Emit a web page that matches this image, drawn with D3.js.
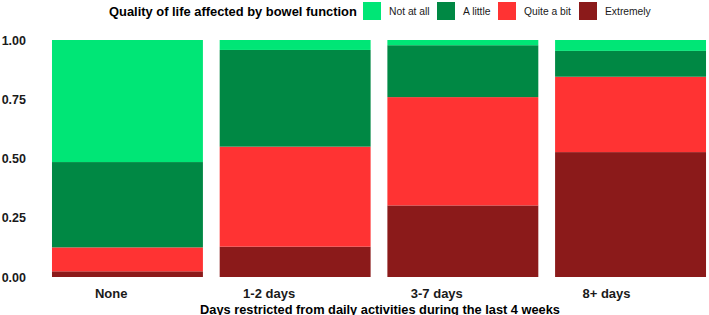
<!DOCTYPE html>
<html>
<head>
<meta charset="utf-8">
<script src="https://cdn.jsdelivr.net/npm/d3@7"></script>
<style>
  body { margin: 0; background: #fff; }
  svg { display: block; font-family: "Liberation Sans", Arial, sans-serif; }
</style>
</head>
<body>
<div id="chart"></div>
<script>
// data
var categories = ["None", "1-2 days", "3-7 days", "8+ days"];
var levels = ["Not at all", "A little", "Quite a bit", "Extremely"];
var notAtAll  = [0.515, 0.042, 0.022, 0.046];
var aLittle   = [0.360, 0.408, 0.219, 0.109];
var quiteABit = [0.101, 0.422, 0.457, 0.318];
var extremely = [0.024, 0.128, 0.302, 0.527];
var yTicks = [0, 0.25, 0.5, 0.75, 1];

var width = 709,
    height = 315,
    levelColors = ["#00e676", "#008844", "#ff3333", "#8b1a1a"];

var rows = categories.map(function(c, i) {
    return {
        cat: c,
        "Not at all": notAtAll[i],
        "A little": aLittle[i],
        "Quite a bit": quiteABit[i],
        "Extremely": extremely[i]
    };
});

var svg = d3.select('#chart').append('svg')
    .attr('width', width)
    .attr('height', height);

var x = d3.scaleBand()
    .domain(categories)
    .range([43.6, 714.4])
    .paddingInner(0.1)
    .paddingOuter(0.05);

var y = d3.scaleLinear()
    .domain([0, 1])
    .range([277, 40]);

var color = d3.scaleOrdinal().domain(levels).range(levelColors);

// bottom of the stack is "Extremely"
var series = d3.stack().keys(levels.slice().reverse())(rows);

svg.append('g')
    .selectAll('g')
    .data(series)
    .join('g')
        .attr('fill', function(d) { return color(d.key); })
    .selectAll('rect')
    .data(function(d) { return d; })
    .join('rect')
        .attr('x', function(d) { return x(d.data.cat); })
        .attr('width', x.bandwidth())
        .attr('y', function(d) { return y(d[1]); })
        .attr('height', function(d) { return y(d[0]) - y(d[1]); });

// y axis: labels only
var yAxis = svg.append('g')
    .attr('transform', 'translate(26,0)')
    .call(d3.axisLeft(y).tickValues(yTicks).tickFormat(d3.format('.2f')).tickSize(0).tickPadding(0));
yAxis.select('.domain').remove();
yAxis.selectAll('text')
    .attr('font-size', 12.5)
    .attr('font-weight', 'bold')
    .attr('font-family', '"Liberation Sans", Arial, sans-serif')
    .attr('fill', '#1a1a1a');

// x labels sit right-aligned on the bar centre
svg.append('g')
    .selectAll('text')
    .data(categories)
    .join('text')
        .attr('x', function(d) { return x(d) + x.bandwidth() / 2; })
        .attr('y', 297.5)
        .attr('text-anchor', 'end')
        .attr('font-size', 13)
        .attr('font-weight', 'bold')
        .attr('fill', '#1a1a1a')
        .text(function(d) { return d; });

svg.append('text')
    .attr('x', 380)
    .attr('y', 313.5)
    .attr('text-anchor', 'middle')
    .attr('font-size', 12.8)
    .attr('font-weight', 'bold')
    .attr('fill', '#000')
    .text('Days restricted from daily activities during the last 4 weeks');

// legend
var legend = svg.append('g');
legend.append('text')
    .attr('x', 109)
    .attr('y', 16)
    .attr('font-size', 12.9)
    .attr('font-weight', 'bold')
    .attr('fill', '#000')
    .text('Quality of life affected by bowel function');

var keyX = [363, 437, 498, 579];
var items = legend.selectAll('g.key')
    .data(levels)
    .join('g')
        .attr('class', 'key')
        .attr('transform', function(d, i) { return 'translate(' + keyX[i] + ',2)'; });
items.append('rect')
    .attr('width', 18)
    .attr('height', 18)
    .attr('fill', function(d) { return color(d); });
items.append('text')
    .attr('x', 26)
    .attr('y', 13)
    .attr('font-size', 10.3)
    .attr('fill', '#1a1a1a')
    .text(function(d) { return d; });
</script>
</body>
</html>
